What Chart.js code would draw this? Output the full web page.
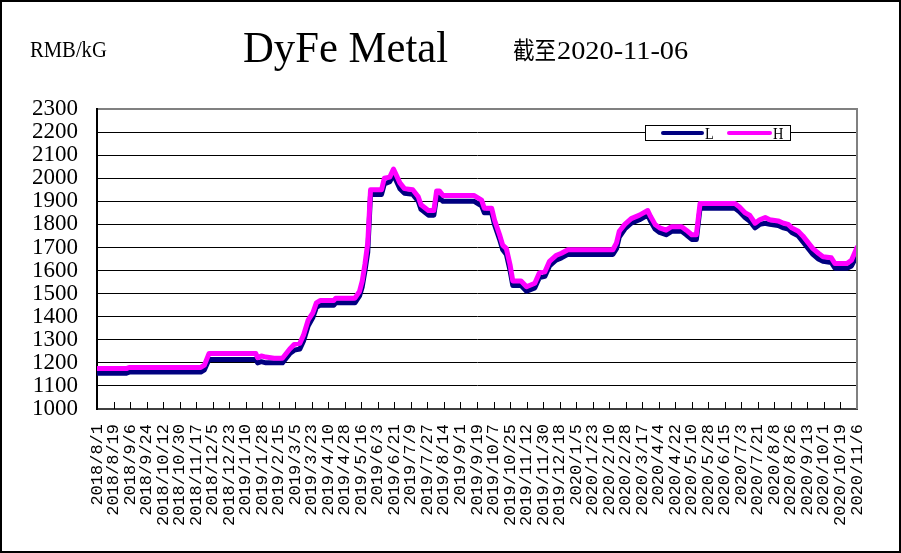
<!DOCTYPE html>
<html>
<head>
<meta charset="utf-8">
<script src="https://cdn.jsdelivr.net/npm/chart.js@4.4.0/dist/chart.umd.min.js"></script>
<style>
    html, body { margin: 0; padding: 0; background: #fff; }
    #wrap { position: relative; width: 901px; height: 553px; }
</style>
</head>
<body>
<div id="wrap"><canvas id="dyfeChart" width="901" height="553"></canvas></div>
<script>
// Price keypoints (RMB/kG)
const priceDates = [
    '2018-08-01', '2018-09-02', '2018-09-05', '2018-11-22', '2018-11-26', '2018-12-01',
    '2019-01-21', '2019-01-23', '2019-01-27', '2019-02-01', '2019-02-10', '2019-02-19',
    '2019-02-27', '2019-03-04', '2019-03-10', '2019-03-14', '2019-03-19', '2019-03-24',
    '2019-03-28', '2019-04-01', '2019-04-16', '2019-04-18', '2019-05-09', '2019-05-14',
    '2019-05-17', '2019-05-20', '2019-05-23', '2019-05-26', '2019-06-07', '2019-06-10',
    '2019-06-16', '2019-06-20', '2019-06-27', '2019-07-02', '2019-07-11', '2019-07-17',
    '2019-07-20', '2019-07-28', '2019-08-03', '2019-08-06', '2019-08-09', '2019-08-13',
    '2019-09-16', '2019-09-24', '2019-09-27', '2019-10-05', '2019-10-08', '2019-10-14',
    '2019-10-17', '2019-10-21', '2019-10-25', '2019-10-28', '2019-11-06', '2019-11-12',
    '2019-11-21', '2019-11-26', '2019-12-02', '2019-12-07', '2019-12-14', '2019-12-20',
    '2019-12-27', '2020-02-14', '2020-02-18', '2020-02-21', '2020-02-27', '2020-03-05',
    '2020-03-14', '2020-03-23', '2020-03-26', '2020-03-31', '2020-04-05', '2020-04-12',
    '2020-04-18', '2020-04-29', '2020-05-04', '2020-05-10', '2020-05-15', '2020-05-19',
    '2020-06-26', '2020-07-01', '2020-07-07', '2020-07-12', '2020-07-18', '2020-07-23',
    '2020-07-29', '2020-08-03', '2020-08-12', '2020-08-18', '2020-08-23', '2020-08-27',
    '2020-09-03', '2020-09-08', '2020-09-14', '2020-09-19', '2020-09-25', '2020-09-30',
    '2020-10-09', '2020-10-13', '2020-10-26', '2020-10-31', '2020-11-06'
];

const highPrices = [
    1175, 1175, 1180, 1180, 1190, 1240,
    1240, 1222, 1230, 1225, 1220, 1220,
    1260, 1280, 1285, 1320, 1385, 1415,
    1460, 1470, 1470, 1480, 1480, 1510,
    1555, 1630, 1720, 1950, 1950, 2000,
    2005, 2040, 1980, 1955, 1950, 1920,
    1885, 1860, 1860, 1945, 1945, 1925,
    1925, 1905, 1870, 1870, 1820, 1750,
    1710, 1695, 1625, 1555, 1555, 1530,
    1545, 1590, 1595, 1640, 1665, 1675,
    1690, 1690, 1720, 1770, 1800, 1825,
    1840, 1860, 1835, 1800, 1785, 1775,
    1790, 1790, 1775, 1755, 1755, 1890,
    1890, 1875, 1850, 1840, 1805, 1820,
    1830, 1820, 1815, 1805, 1800, 1785,
    1770, 1750, 1720, 1695, 1675, 1660,
    1655, 1630, 1630, 1645, 1700
];

const lowPrices = [
    1155, 1155, 1160, 1160, 1170, 1215,
    1215, 1200, 1205, 1200, 1200, 1200,
    1240, 1255, 1260, 1295, 1360, 1395,
    1440, 1450, 1450, 1460, 1460, 1490,
    1530, 1600, 1680, 1930, 1930, 1975,
    1985, 2015, 1955, 1935, 1930, 1900,
    1865, 1840, 1840, 1920, 1915, 1900,
    1900, 1880, 1850, 1850, 1800, 1730,
    1690, 1670, 1600, 1535, 1535, 1510,
    1525, 1570, 1575, 1620, 1645, 1655,
    1670, 1670, 1695, 1745, 1780, 1805,
    1820, 1840, 1815, 1780, 1765, 1755,
    1770, 1770, 1755, 1735, 1735, 1870,
    1870, 1855, 1830, 1815, 1785, 1800,
    1805, 1800, 1795, 1785, 1780, 1765,
    1750, 1725, 1695, 1670, 1650, 1640,
    1635, 1610, 1610, 1620, 1665
];

const xTickLabels = [
    '2018/8/1', '2018/8/19', '2018/9/6', '2018/9/24', '2018/10/12', '2018/10/30',
    '2018/11/17', '2018/12/5', '2018/12/23', '2019/1/10', '2019/1/28', '2019/2/15',
    '2019/3/5', '2019/3/23', '2019/4/10', '2019/4/28', '2019/5/16', '2019/6/3',
    '2019/6/21', '2019/7/9', '2019/7/27', '2019/8/14', '2019/9/1', '2019/9/19',
    '2019/10/7', '2019/10/25', '2019/11/12', '2019/11/30', '2019/12/18', '2020/1/5',
    '2020/1/23', '2020/2/10', '2020/2/28', '2020/3/17', '2020/4/4', '2020/4/22',
    '2020/5/10', '2020/5/28', '2020/6/15', '2020/7/3', '2020/7/21', '2020/8/8',
    '2020/8/26', '2020/9/13', '2020/10/1', '2020/10/19', '2020/11/6'
];

const yTickValues = [1000, 1100, 1200, 1300, 1400, 1500, 1600, 1700, 1800, 1900, 2000, 2100, 2200, 2300];

// days since the first date on the axis
const startDay = Date.UTC(2018, 7, 1);
function dayIndex(str) {
    const p = str.split(/[-\/]/).map(Number);
    return Math.round((Date.UTC(p[0], p[1] - 1, p[2]) - startDay) / 86400000);
}

const tickLabelByDay = {};
xTickLabels.forEach(l => { tickLabelByDay[dayIndex(l)] = l; });

const yTop = yTickValues[yTickValues.length - 1];

function scaledText(ctx, text, x, y, font, sx) {
    ctx.save();
    ctx.font = font;
    ctx.translate(x, y);
    ctx.scale(sx, 1);
    ctx.fillText(text, 0, 0);
    ctx.restore();
}

// frame pieces, legend and headings drawn on top
const frameDecor = {
    id: 'frameDecor',
    afterDraw(chart) {
        const { ctx, chartArea: a, scales: { x } } = chart;
        ctx.save();

        // tick marks pointing into the plot
        ctx.strokeStyle = '#000';
        ctx.lineWidth = 1;
        x.ticks.forEach(t => {
            const px = Math.round(x.getPixelForValue(t.value)) + 0.5;
            ctx.beginPath();
            ctx.moveTo(px, a.bottom);
            ctx.lineTo(px, a.bottom - 7);
            ctx.stroke();
        });

        // right edge of plot
        ctx.strokeStyle = '#808080';
        ctx.lineWidth = 2;
        ctx.beginPath();
        ctx.moveTo(a.right, a.top - 1);
        ctx.lineTo(a.right, a.bottom);
        ctx.stroke();

        // legend box
        ctx.fillStyle = '#fff';
        ctx.fillRect(645.5, 125.5, 145, 15);
        ctx.strokeStyle = '#000';
        ctx.lineWidth = 1;
        ctx.strokeRect(645.5, 125.5, 145, 15);
        ctx.lineCap = 'round';
        ctx.lineWidth = 4;
        ctx.strokeStyle = '#000080';
        ctx.beginPath(); ctx.moveTo(663, 133); ctx.lineTo(702, 133); ctx.stroke();
        ctx.strokeStyle = '#FF00FF';
        ctx.beginPath(); ctx.moveTo(729, 133); ctx.lineTo(770, 133); ctx.stroke();
        ctx.fillStyle = '#000';
        ctx.textBaseline = 'alphabetic';
        scaledText(ctx, 'L', 705, 139, '16px "Liberation Serif"', 0.9);
        scaledText(ctx, 'H', 773, 139, '16px "Liberation Serif"', 0.9);

        // headings
        scaledText(ctx, 'RMB/kG', 30, 57, '24px "Liberation Serif"', 0.86);
        scaledText(ctx, 'DyFe Metal', 243, 62, '44px "Liberation Serif"', 0.97);
        scaledText(ctx, '截至', 513, 59, '24px "Noto Sans CJK SC"', 0.9);
        scaledText(ctx, '2020-11-06', 557, 59, '26px "Liberation Serif"', 1.09);

        // outer border
        ctx.strokeStyle = '#000';
        ctx.lineWidth = 2;
        ctx.strokeRect(1, 1, chart.width - 2, chart.height - 2);
        ctx.restore();
    }
};

const ctx = document.getElementById('dyfeChart');
new Chart(ctx, {
    type: 'line',
    data: {
        datasets: [{
            label: 'L',
            data: priceDates.map((d, i) => ({ x: dayIndex(d), y: lowPrices[i] })),
            borderColor: '#000080',
            borderWidth: 5,
            pointRadius: 0,
            tension: 0,
            borderJoinStyle: 'round',
            borderCapStyle: 'round',
            order: 2
        }, {
            label: 'H',
            data: priceDates.map((d, i) => ({ x: dayIndex(d), y: highPrices[i] })),
            borderColor: '#FF00FF',
            borderWidth: 5,
            pointRadius: 0,
            tension: 0,
            borderJoinStyle: 'round',
            borderCapStyle: 'round',
            order: 1
        }]
    },
    options: {
        responsive: false,
        animation: false,
        events: [],
        layout: {
            padding: { top: 109, right: 44, left: 0, bottom: 0 }
        },
        plugins: {
            legend: { display: false },
            tooltip: { enabled: false }
        },
        scales: {
            x: {
                type: 'linear',
                min: 0,
                max: dayIndex('2020-11-06'),
                afterBuildTicks: scale => {
                    scale.ticks = xTickLabels.map(l => ({ value: dayIndex(l) }));
                },
                afterFit: scale => { scale.height = 144; },
                grid: { display: false, drawTicks: false },
                border: { display: true, color: '#404040', width: 2 },
                ticks: {
                    autoSkip: false,
                    minRotation: 90,
                    maxRotation: 90,
                    padding: 15,
                    color: '#000',
                    font: { family: '"Liberation Mono"', size: 17 },
                    callback: value => tickLabelByDay[value] || ''
                }
            },
            y: {
                min: yTickValues[0],
                max: yTop,
                afterBuildTicks: scale => {
                    scale.ticks = yTickValues.map(v => ({ value: v }));
                },
                afterFit: scale => { scale.width = 97; },
                grid: {
                    drawTicks: false,
                    color: c => (c.tick && c.tick.value === yTop) ? '#808080' : '#000',
                    lineWidth: c => (c.tick && c.tick.value === yTop) ? 2 : 1
                },
                border: { display: true, color: '#000', width: 2 },
                ticks: {
                    autoSkip: false,
                    padding: 19,
                    color: '#000',
                    font: { family: '"Liberation Serif"', size: 23 },
                    callback: value => String(value)
                }
            }
        }
    },
    plugins: [frameDecor]
});
</script>
</body>
</html>
